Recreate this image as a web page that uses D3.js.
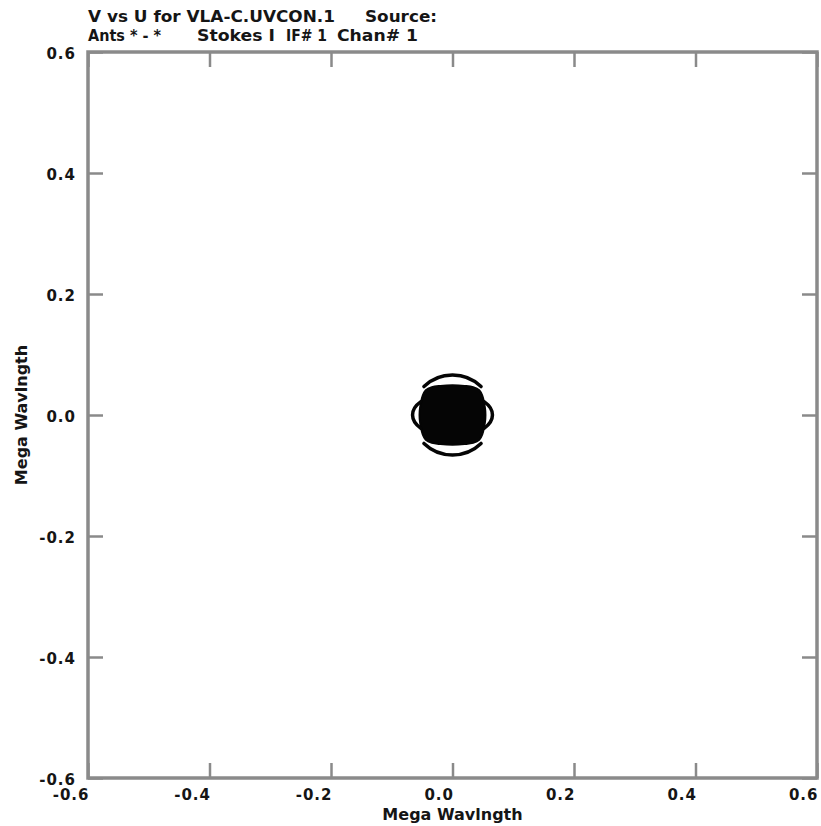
<!DOCTYPE html>
<html>
<head>
<meta charset="utf-8">
<script src="https://cdn.jsdelivr.net/npm/d3@7"></script>
<style>
  body { margin: 0; background: #fff; }
  text { font-family: "DejaVu Sans", sans-serif; font-weight: bold; fill: #151515; }
</style>
</head>
<body>
<div id="chart"></div>
<script>
const xTicks = [-0.6, -0.4, -0.2, 0.0, 0.2, 0.4, 0.6];
const xTickLabels = ['-0.6', '-0.4', '-0.2', '0.0', '0.2', '0.4', '0.6'];
const yTicks = [-0.6, -0.4, -0.2, 0.0, 0.2, 0.4, 0.6];
const yTickLabels = ['-0.6', '-0.4', '-0.2', '0.0', '0.2', '0.4', '0.6'];

// outline of the saturated core of the uv coverage (right half, the left half is its conjugate)
const coreU = [0.000, 0.020, 0.034, 0.044, 0.049, 0.052, 0.054, 0.054, 0.052, 0.049, 0.044, 0.034, 0.020];
const coreV = [0.049, 0.048, 0.046, 0.041, 0.032, 0.020, 0.007, -0.007, -0.020, -0.032, -0.041, -0.046, -0.048];

// outer partial tracks: start point, end point, radii (conjugates are mirrored)
const arcU0 = [-0.047, 0.052];
const arcV0 = [0.047, 0.022];
const arcU1 = [0.047, 0.052];
const arcV1 = [0.047, -0.022];
const arcRU = [0.067, 0.066];
const arcRV = [0.066, 0.036];

const title1 = ['V vs U for VLA-C.UVCON.1', 'Source:'];
const title2 = ['Ants * - *', 'Stokes I', 'IF# 1', 'Chan# 1'];
const axisTitle = 'Mega Wavlngth';

const W = 821, H = 826;
const margin = { top: 52, right: 4, bottom: 48, left: 88 };

const svg = d3.select('#chart').append('svg')
  .attr('width', W)
  .attr('height', H);

const x = d3.scaleLinear().domain([-0.6, 0.6]).range([margin.left, W - margin.right]);
const y = d3.scaleLinear().domain([-0.6, 0.6]).range([H - margin.bottom, margin.top]);

const frameColor = '#8a8a8a';

// ticks on all four sides
const axBottom = svg.append('g')
  .attr('transform', `translate(0, ${y(-0.6)})`)
  .call(d3.axisBottom(x).tickValues(xTicks).tickSize(-15).tickPadding(11)
    .tickFormat((d, i) => xTickLabels[i]));
const axTop = svg.append('g')
  .attr('transform', `translate(0, ${y(0.6)})`)
  .call(d3.axisTop(x).tickValues(xTicks).tickSize(-15).tickFormat(''));
const axLeft = svg.append('g')
  .attr('transform', `translate(${x(-0.6)}, 0)`)
  .call(d3.axisLeft(y).tickValues(yTicks).tickSize(-15).tickPadding(12)
    .tickFormat((d, i) => yTickLabels[i]));
const axRight = svg.append('g')
  .attr('transform', `translate(${x(0.6)}, 0)`)
  .call(d3.axisRight(y).tickValues(yTicks).tickSize(-15).tickFormat(''));

[axBottom, axTop, axLeft, axRight].forEach(g => {
  g.select('.domain').remove();
  g.selectAll('.tick line').attr('stroke', frameColor).attr('stroke-width', 2.5);
  g.selectAll('text')
    .attr('fill', '#151515')
    .attr('font-family', '"DejaVu Sans", sans-serif')
    .attr('font-weight', 'bold')
    .attr('font-size', 15)
    .attr('letter-spacing', 1);
});
axBottom.selectAll('text').attr('text-anchor', 'end').attr('dx', 1);
axLeft.selectAll('text').attr('dy', '0.45em');

// plot frame
svg.append('rect')
  .attr('x', x(-0.6))
  .attr('y', y(0.6))
  .attr('width', x(0.6) - x(-0.6))
  .attr('height', y(-0.6) - y(0.6))
  .attr('fill', 'none')
  .attr('stroke', frameColor)
  .attr('stroke-width', 3.5);

// uv coverage
const uv = svg.append('g');
const rx = v => x(v) - x(0);
const ry = v => y(0) - y(v);

const corePts = coreU.map((u, i) => [u, coreV[i]])
  .concat(coreU.map((u, i) => [-u, -coreV[i]]));
const coreLine = d3.line()
  .x(d => x(d[0]))
  .y(d => y(d[1]))
  .curve(d3.curveCatmullRomClosed);

uv.append('path')
  .datum(corePts)
  .attr('d', coreLine)
  .attr('fill', '#050505')
  .attr('stroke', '#050505')
  .attr('stroke-width', 2);

const arcs = [];
arcU0.forEach((u, i) => {
  arcs.push({ u0: u, v0: arcV0[i], u1: arcU1[i], v1: arcV1[i], ru: arcRU[i], rv: arcRV[i] });
  arcs.push({ u0: -u, v0: -arcV0[i], u1: -arcU1[i], v1: -arcV1[i], ru: arcRU[i], rv: arcRV[i] });
});

uv.selectAll('path.track')
  .data(arcs)
  .join('path')
  .attr('class', 'track')
  .attr('d', d => `M${x(d.u0)},${y(d.v0)} A${rx(d.ru)},${ry(d.rv)} 0 0 1 ${x(d.u1)},${y(d.v1)}`)
  .attr('fill', 'none')
  .attr('stroke', '#050505')
  .attr('stroke-width', 3.5)
  .attr('stroke-linecap', 'round');

// titles
const titles = svg.append('g').attr('font-size', 16);
const t1x = [88, 365], t1w = [247, 72];
title1.forEach((s, i) => {
  titles.append('text').attr('x', t1x[i]).attr('y', 22)
    .attr('textLength', t1w[i]).attr('lengthAdjust', 'spacingAndGlyphs').text(s);
});
const t2x = [88, 197, 286, 337], t2w = [73, 78, 41, 81];
title2.forEach((s, i) => {
  titles.append('text').attr('x', t2x[i]).attr('y', 41)
    .attr('textLength', t2w[i]).attr('lengthAdjust', 'spacingAndGlyphs').text(s);
});

svg.append('text')
  .attr('x', x(0))
  .attr('y', 820)
  .attr('text-anchor', 'middle')
  .attr('font-size', 16)
  .text(axisTitle);

svg.append('text')
  .attr('transform', `translate(27, ${y(0)}) rotate(-90)`)
  .attr('text-anchor', 'middle')
  .attr('font-size', 16)
  .text(axisTitle);
</script>
</body>
</html>
